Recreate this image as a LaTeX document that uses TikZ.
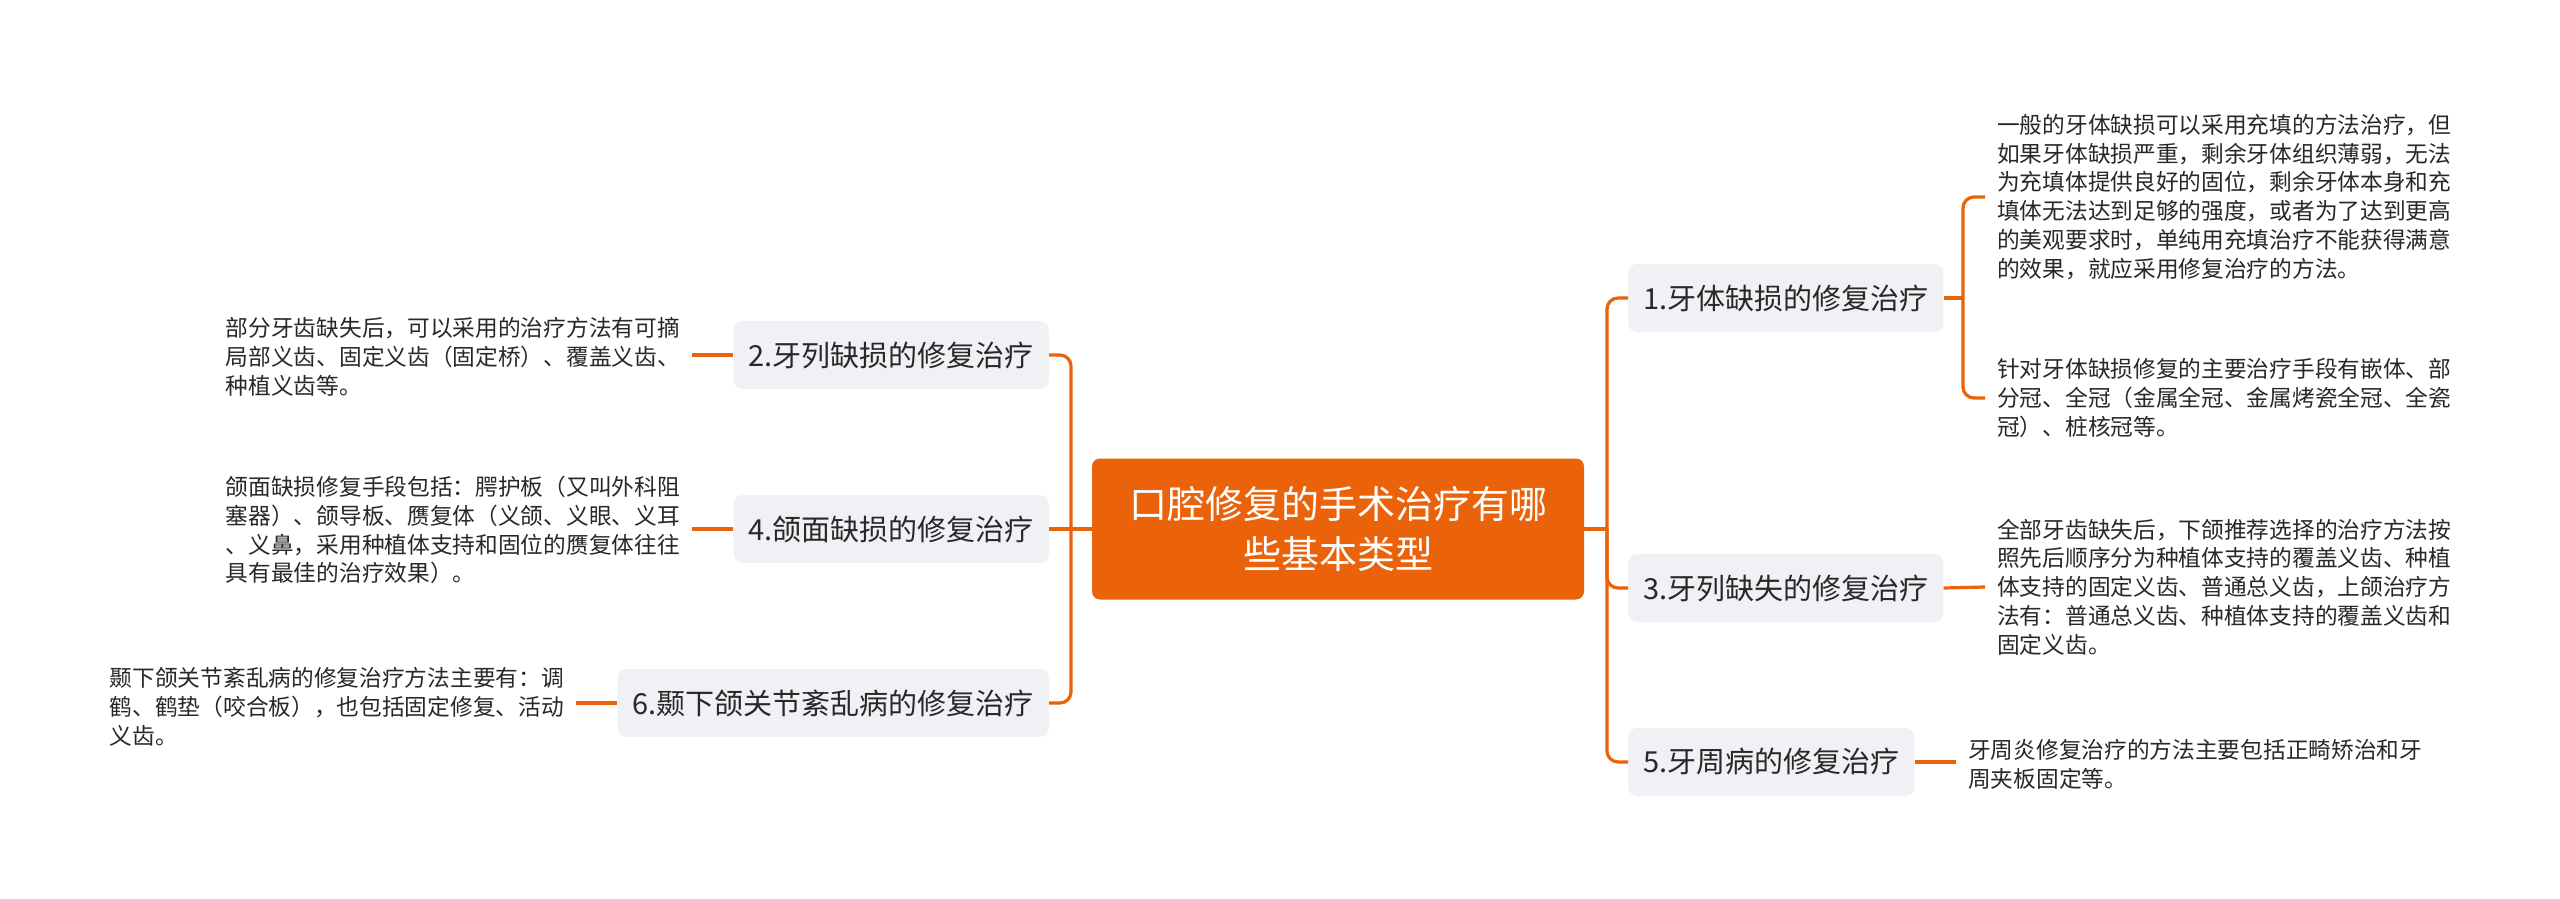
\documentclass[tikz,border=0pt]{standalone}
\usepackage{fontspec}
\setmainfont{Noto Sans CJK SC}
\newfontfamily\cjk{Noto Sans CJK SC}
\definecolor{orng}{RGB}{234,98,10}
\definecolor{boxgray}{RGB}{239,241,244}
\definecolor{txt}{RGB}{40,40,40}
\tikzset{
  conn/.style={draw=orng, line width=3.2pt, rounded corners=11pt},
  rootbox/.style={fill=orng, rounded corners=8pt, minimum width=492pt, minimum height=141pt,
    align=center, text=white, font=\cjk\fontsize{38}{50}\selectfont, inner sep=0pt},
  mainbox/.style={fill=boxgray, rounded corners=9pt, minimum height=68pt, inner xsep=15pt,
    inner ysep=0pt, text=txt, font=\cjk\fontsize{29}{34}\selectfont},
  leaf/.style={align=left, text=txt, inner xsep=12pt, inner ysep=0pt,
    font=\cjk\fontsize{22.7}{28.8}\selectfont},
}
\begin{document}
\begin{tikzpicture}[x=1pt,y=-1pt]
\useasboundingbox (0,0) rectangle (2560,899);
\fill[white] (0,0) rectangle (2560,899);

\node[rootbox] (root) at (1338,529) {口腔修复的手术治疗有哪\\些基本类型};

% right main nodes
\node[mainbox, anchor=west] (n1) at (1628,298) {1.牙体缺损的修复治疗};
\node[mainbox, anchor=west] (n3) at (1628,588) {3.牙列缺失的修复治疗};
\node[mainbox, anchor=west] (n5) at (1628,762) {5.牙周病的修复治疗};

% left main nodes
\node[mainbox, anchor=east] (n2) at (1049,355) {2.牙列缺损的修复治疗};
\node[mainbox, anchor=east] (n4) at (1049,529) {4.颌面缺损的修复治疗};
\node[mainbox, anchor=east] (n6) at (1049,703) {6.颞下颌关节紊乱病的修复治疗};

% leaves right
\node[leaf, anchor=west] (l1a) at (1985,197) {一般的牙体缺损可以采用充填的方法治疗，但\\如果牙体缺损严重，剩余牙体组织薄弱，无法\\为充填体提供良好的固位，剩余牙体本身和充\\填体无法达到足够的强度，或者为了达到更高\\的美观要求时，单纯用充填治疗不能获得满意\\的效果，就应采用修复治疗的方法。};
\node[leaf, anchor=west] (l1b) at (1985,398) {针对牙体缺损修复的主要治疗手段有嵌体、部\\分冠、全冠（金属全冠、金属烤瓷全冠、全瓷\\冠）、桩核冠等。};
\node[leaf, anchor=west] (l3) at (1985,587) {全部牙齿缺失后，下颌推荐选择的治疗方法按\\照先后顺序分为种植体支持的覆盖义齿、种植\\体支持的固定义齿、普通总义齿，上颌治疗方\\法有：普通总义齿、种植体支持的覆盖义齿和\\固定义齿。};
\node[leaf, anchor=west] (l5) at (1956,764) {牙周炎修复治疗的方法主要包括正畸矫治和牙\\周夹板固定等。};

% leaves left
\node[leaf, anchor=east] (l2) at (692,357) {部分牙齿缺失后，可以采用的治疗方法有可摘\\局部义齿、固定义齿（固定桥）、覆盖义齿、\\种植义齿等。};
\node[leaf, anchor=east] (l4) at (692,530) {颌面缺损修复手段包括：腭护板（又叫外科阻\\塞器）、颌导板、赝复体（义颌、义眼、义耳\\、义鼻，采用种植体支持和固位的赝复体往往\\具有最佳的治疗效果）。};
\node[leaf, anchor=east] (l6) at (576,707) {颞下颌关节紊乱病的修复治疗方法主要有：调\\鹤、鹤垫（咬合板），也包括固定修复、活动\\义齿。};

% trunks
\coordinate (tr) at (1607,529);
\coordinate (tl) at (1071,529);
\draw[conn] (root.east) -- (tr);
\draw[conn] (n1.west) -| (tr) |- (n5.west);
\draw[conn] (tr) |- (n3.west);
\draw[conn] (n2.east) -| (tl) |- (n6.east);
\draw[conn] (root.west) -- (n4.east);

% leaf connectors
\coordinate (b1) at (1963,298);
\draw[conn] (n1.east) -- (b1);
\draw[conn] (l1a.west) -| (b1) |- (l1b.west);
\draw[conn] (n3.east) -- (l3.west);
\draw[conn] (n5.east) -- (l5.west |- n5.east);
\draw[conn] (n2.west) -- (l2.east |- n2.west);
\draw[conn] (n4.west) -- (l4.east |- n4.west);
\draw[conn] (n6.west) -- (l6.east |- n6.west);
\end{tikzpicture}
\end{document}
